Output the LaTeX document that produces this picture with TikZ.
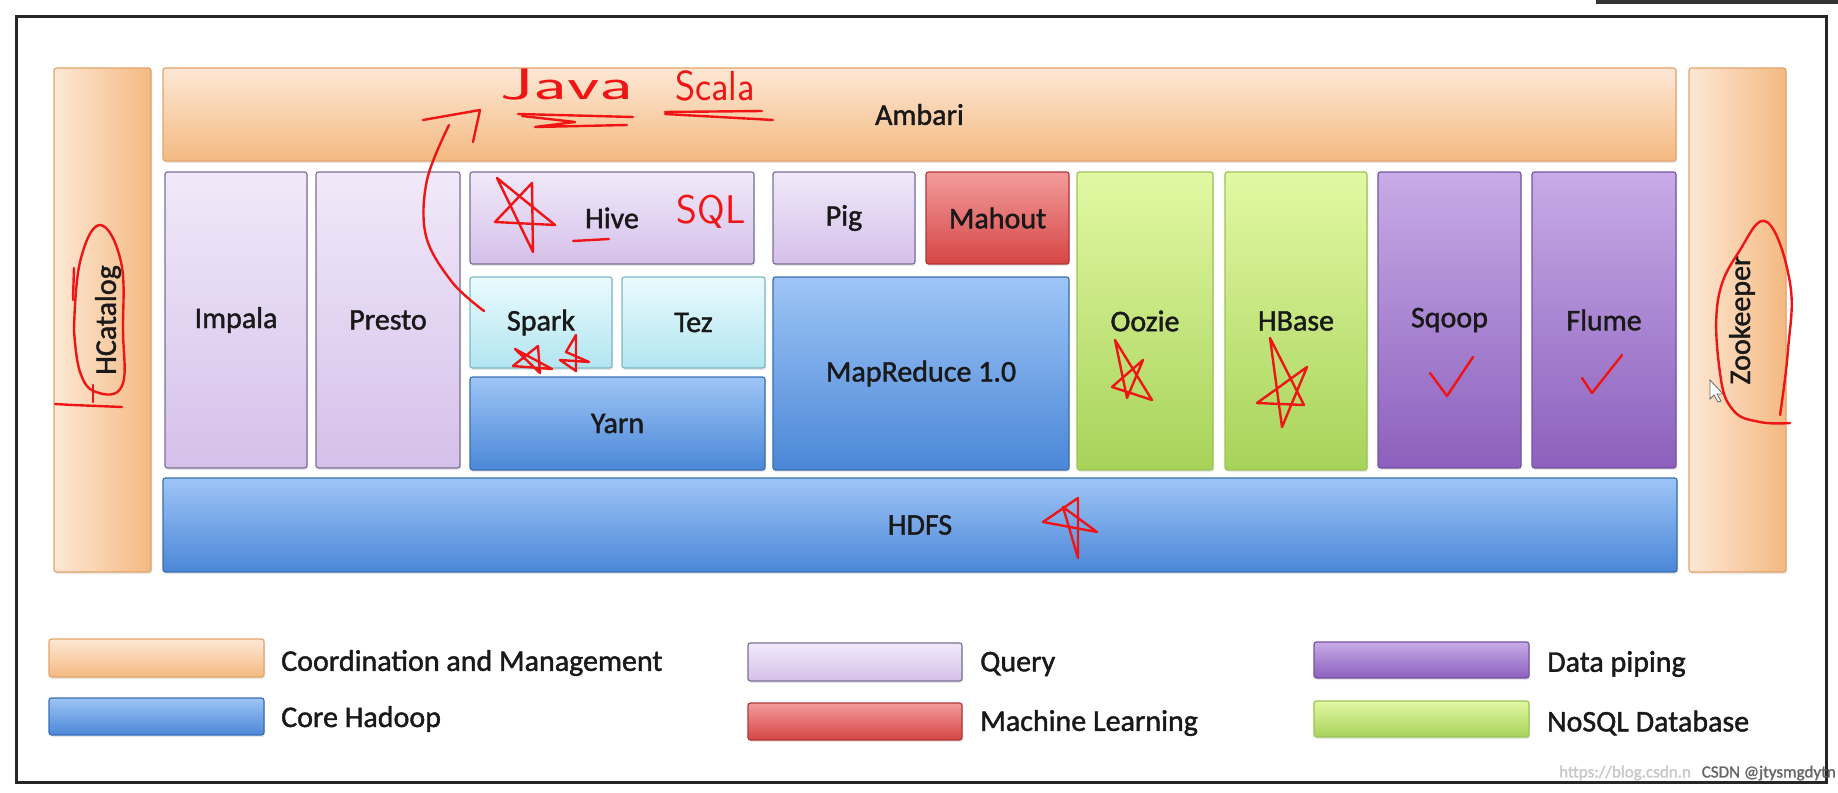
\documentclass[tikz,border=0pt]{standalone}
\usepackage{fontspec}
\setmainfont{Carlito}[FakeBold=1.4]
\usetikzlibrary{shadows}
\definecolor{orL}{HTML}{FDE8D5}
\definecolor{orD}{HTML}{F4B981}
\definecolor{orB}{HTML}{E3A46C}
\definecolor{quL}{HTML}{F1E9F9}
\definecolor{quD}{HTML}{D4C0EA}
\definecolor{quB}{HTML}{7C7096}
\definecolor{mlL}{HTML}{F39C9C}
\definecolor{mlD}{HTML}{D64545}
\definecolor{mlB}{HTML}{B13636}
\definecolor{cyL}{HTML}{EAFBFE}
\definecolor{cyD}{HTML}{B2E5F0}
\definecolor{cyB}{HTML}{7DB7C5}
\definecolor{coL}{HTML}{9EC5F6}
\definecolor{coD}{HTML}{4B87D7}
\definecolor{coB}{HTML}{3A6EB5}
\definecolor{grL}{HTML}{E2F8A3}
\definecolor{grD}{HTML}{A7D35A}
\definecolor{grB}{HTML}{9BC457}
\definecolor{puL}{HTML}{C8ABE7}
\definecolor{puD}{HTML}{8C60BD}
\definecolor{puB}{HTML}{7554A0}
\definecolor{inkred}{HTML}{F01515}
\newcommand{\lblfont}{\fontsize{30}{34}\selectfont}
\newcommand{\blk}[7]{%
  \pgfmathsetmacro\bkw{#5-#3}\pgfmathsetmacro\bkh{#6-#4}%
  \node[#2, minimum width=\bkw pt, minimum height=\bkh pt, anchor=north west] (#1) at (#3,#4) {\raisebox{-4pt}{#7}};}
\begin{document}
\begin{tikzpicture}[x=1pt,y=-1pt,
  blk/.style={draw, rounded corners=2.5pt, inner sep=0pt, outer sep=0pt, line width=1.2pt,
    font=\lblfont, text=black!90,
    drop shadow={opacity=0.18, shadow xshift=1pt, shadow yshift=-2pt}},
  orangeV/.style={blk, draw=orB, left color=orL, right color=orD},
  orangeH/.style={blk, draw=orB, top color=orL, bottom color=orD},
  query/.style={blk, draw=quB, top color=quL, bottom color=quD},
  ml/.style={blk, draw=mlB, top color=mlL, bottom color=mlD},
  cyanb/.style={blk, draw=cyB, top color=cyL, bottom color=cyD},
  core/.style={blk, draw=coB, top color=coL, bottom color=coD},
  green/.style={blk, draw=grB, top color=grL, bottom color=grD},
  purp/.style={blk, draw=puB, top color=puL, bottom color=puD},
  legtext/.style={anchor=west, font=\lblfont, text=black!90, inner sep=0pt},
  ink/.style={draw=inkred, line width=2.4pt, line cap=round, line join=round},
  handtext/.style={text=inkred, inner sep=0pt, anchor=base}]
\useasboundingbox (0,0) rectangle (1838,792);
\fill[white] (0,0) rectangle (1838,792);
\fill[black!80] (1596,0) rectangle (1838,4);
\draw[black!85, line width=3pt] (16,17) rectangle (1826,782);

% main blocks
\blk{hcat}{orangeV}{54}{68}{151}{572}{}
\node[rotate=90, font=\lblfont, text=black!90] (hcatl) at (108,320) {HCatalog};
\blk{amb}{orangeH}{163}{68}{1676}{161}{Ambari}
\blk{zoo}{orangeV}{1689}{68}{1786}{572}{}
\node[rotate=90, font=\lblfont, text=black!90] (zool) at (1742,320) {Zookeeper};
\blk{impala}{query}{165}{172}{307}{468}{Impala}
\blk{presto}{query}{316}{172}{460}{468}{Presto}
\blk{hive}{query}{470}{172}{754}{264}{Hive}
\blk{pig}{query}{773}{172}{915}{264}{Pig}
\blk{mahout}{ml}{926}{172}{1069}{264}{Mahout}
\blk{spark}{cyanb}{470}{277}{612}{368}{Spark}
\blk{tez}{cyanb}{622}{277}{765}{368}{Tez}
\blk{yarn}{core}{470}{377}{765}{470}{Yarn}
\blk{mapred}{core}{773}{277}{1069}{470}{MapReduce 1.0}
\blk{oozie}{green}{1077}{172}{1213}{470}{\raisebox{-7pt}{Oozie}}
\blk{hbase}{green}{1225}{172}{1367}{470}{HBase}
\blk{sqoop}{purp}{1378}{172}{1521}{468}{Sqoop}
\blk{flume}{purp}{1532}{172}{1676}{468}{Flume}
\blk{hdfs}{core}{163}{478}{1677}{572}{HDFS}

% legend
\blk{lg1}{orangeH}{49}{639}{264}{677}{}
\node[legtext] (lt1) at (281,663) {Coordination and Management};
\blk{lg2}{core}{49}{698}{264}{735}{}
\node[legtext] (lt2) at (281,719) {Core Hadoop};
\blk{lg3}{query}{748}{643}{962}{681}{}
\node[legtext] (lt3) at (980,664) {Query};
\blk{lg4}{ml}{748}{703}{962}{740}{}
\node[legtext] (lt4) at (980,723) {Machine Learning};
\blk{lg5}{purp}{1314}{642}{1529}{678}{}
\node[legtext] (lt5) at (1547,664) {Data piping};
\blk{lg6}{green}{1314}{701}{1529}{737}{}
\node[legtext] (lt6) at (1547,723) {NoSQL Database};

% watermark
\node[anchor=west, inner sep=0pt, font=\fontsize{17}{17}\selectfont, text=black!22] (wm1) at (1559,773) {https://blog.csdn.n};
\node[anchor=east, inner sep=0pt, font=\fontsize{17}{17}\selectfont, text=black!60] (wm2) at (1836,773) {CSDN @jtysmgdytn};

% mouse cursor
\draw[fill=white, draw=black!60, line width=0.8pt] (1710,380) -- (1710,399) -- (1714,395) -- (1718,402) -- (1721,401) -- (1717,394) -- (1723,394) -- cycle;

% handwritten annotations
\node[handtext, font=\sffamily\fontsize{44}{44}\selectfont] (java) at (567,99) {\scalebox{1.7}[1]{Java}};
\node[handtext, font=\sffamily\fontsize{42}{42}\selectfont] (scala) at (715,100) {\scalebox{0.92}[1]{Scala}};
\node[handtext, font=\sffamily\fontsize{40}{40}\selectfont] (sql) at (711,223) {SQL};
\draw[ink] (518,114) -- (633,117);
\draw[ink] (522,116) -- (575,122) -- (535,127) -- (627,125);
\draw[ink] (665,112) -- (762,111);
\draw[ink] (665,114) -- (773,120);
% arrow from Spark up to Java
\coordinate (arS) at (484,311);
\coordinate (arE) at (449,125);
\draw[ink] plot[smooth, tension=0.6] coordinates {(arS) (452,282) (426,236) (427,180) (arE)};
\draw[ink] (423,120) -- (480,110) -- (473,142);
% Hive star, underline
\draw[ink] (532,183) -- (533,252) -- (497,178) -- (555,225) -- (495,222) -- cycle;
\draw[ink] (573,241) -- (609,239);
% Spark stars
\draw[ink] (538,346) -- (540,373) -- (515,349) -- (552,369) -- (513,366) -- cycle;
\draw[ink] (576,335) -- (576,371) -- (560,360) -- (589,362) -- (566,352) -- cycle;
% HCatalog circle
\draw[ink] plot[smooth, tension=0.6] coordinates {(73,300) (74,268)};
\draw[ink] plot[smooth, tension=0.7] coordinates {(74,330) (80,262) (100,225) (121,262) (123,330) (122,386) (96,392) (80,372) (74,330)};
\draw[ink] (55,404) -- (73,405) -- (122,407);
\draw[ink] (93,385) -- (93,402);
% Zookeeper circle
\draw[ink] plot[smooth, tension=0.7] coordinates {(1780,415) (1788,350) (1790,283) (1767,222) (1740,250) (1718,300) (1720,373) (1733,410) (1760,422) (1790,423)};
% Oozie star
\draw[ink] (1115,340) -- (1152,400) -- (1112,387) -- (1143,360) -- (1127,398) -- cycle;
% HBase star
\draw[ink] (1270,338) -- (1282,427) -- (1307,367) -- (1257,403) -- (1304,405) -- cycle;
% HDFS star
\draw[ink] (1078,498) -- (1078,558) -- (1063,507) -- (1097,532) -- (1043,522) -- cycle;
% check marks
\draw[ink] (1430,373) -- (1447,396) -- (1473,357);
\draw[ink] (1582,378) -- (1592,393) -- (1622,355);
\end{tikzpicture}
\end{document}
